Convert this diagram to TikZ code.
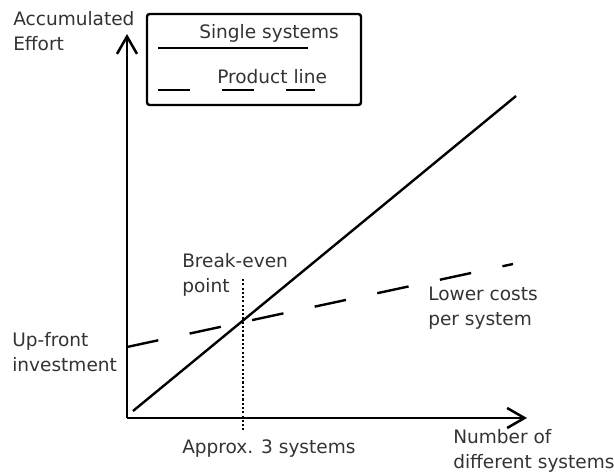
\documentclass[tikz,border=0pt]{standalone}
\usepackage{fontspec}
\setmainfont{DejaVu Sans}
\usetikzlibrary{arrows.meta}
\begin{document}
\begin{tikzpicture}[x=0.75pt,y=-0.75pt,
  lbl/.style={anchor=base west,inner sep=0pt,text=black!80,align=left,
    font=\fontsize{13.9}{18.75}\selectfont},
  axis/.style={line width=1.9pt,-{Straight Barb[length=13pt,width=15pt,line width=1.9pt]}},
  single/.style={line width=1.8pt},
  prodline/.style={line width=1.8pt,dash pattern=on 24pt off 24pt},
  guide/.style={line width=2.1pt,dash pattern=on 1.6pt off 1.6pt}]
\useasboundingbox (0,0) rectangle (614,475);

% axes
\coordinate (origin) at (127,418);
\coordinate (ytip) at (127,34);
\coordinate (xtip) at (527,418);
\draw[axis] (origin) -- (ytip);
\draw[axis] (origin) -- (xtip);

% legend
\node[draw,line width=1.8pt,rounded corners=2pt,minimum width=214*0.75pt,
  minimum height=91*0.75pt,inner sep=0pt] (legend) at (254,59.5) {};
\coordinate (lsA) at (158,48);  \coordinate (lsB) at (308,48);
\coordinate (ldA) at (158,90);  \coordinate (ldB) at (315,90);
\draw[single] (lsA) -- (lsB);
\draw[prodline] (ldA) -- (ldB);
\node[lbl] (lsingle) at (199,38) {Single systems};
\node[lbl] (lprod) at (217,83) {Product line};

% cost curves
\coordinate (sA) at (133,411); \coordinate (sB) at (516,96);
\coordinate (pA) at (127,347); \coordinate (pB) at (513,264);
\draw[single] (sA) -- (sB);
\draw[prodline] (pA) -- (pB);

% break-even marker
\coordinate (bTop) at (243,279); \coordinate (bBot) at (243,430);
\draw[guide] (bTop) -- (bBot);

% labels (anchored at the baseline of their last line)
\node[lbl] (yl) at (13,50) {Accumulated\\Effort};
\node[lbl] (xl) at (453,468) {Number of\\different systems};
\node[lbl] (be) at (182,292) {Break-even\\point};
\node[lbl] (lc) at (428,325) {Lower costs\\per system};
\node[lbl] (uf) at (12,371) {Up-front\\investment};
\node[lbl] (ap) at (182,453) {Approx. 3 systems};
\end{tikzpicture}
\end{document}
